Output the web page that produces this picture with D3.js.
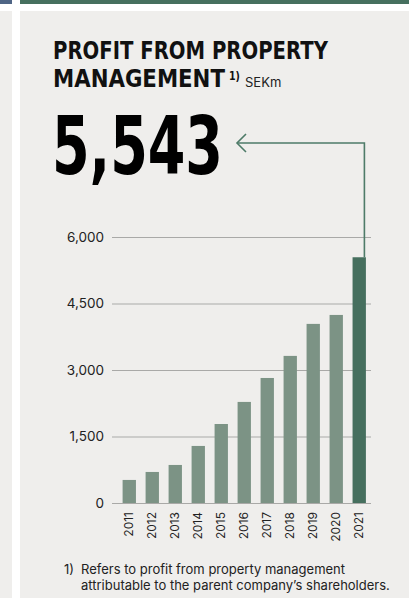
<!DOCTYPE html>
<html>
<head>
<meta charset="utf-8">
<script src="https://cdn.jsdelivr.net/npm/d3@7"></script>
<style>
  body { margin: 0; background: #fff; }
  svg { display: block; }
</style>
</head>
<body>
<div class="container"></div>
<script>
// profit from property management, SEKm
var years = ["2011", "2012", "2013", "2014", "2015", "2016", "2017", "2018", "2019", "2020", "2021"];
var profit = [520, 700, 858, 1287, 1782, 2280, 2820, 3318, 4040, 4242, 5543];
var yTicks = [0, 1500, 3000, 4500, 6000];

var opts = {
	width: 416,
	height: 604,
	bg: "#efeeec",
	bar: "#7c9385",
	highlight: "#466f5e",
	arrow: "#4e7b68"
};

var data = years.map(function(y, i){ return {year: y, value: profit[i]}; });

var svg = d3.select(".container")
	.append("svg")
	.attr("width", opts.width)
	.attr("height", opts.height);

// page furniture: side panel + main panel with coloured top strips
svg.append("rect").attr("x", 0).attr("y", 0).attr("width", 12).attr("height", 4).attr("fill", "#4f6585");
svg.append("rect").attr("x", 0).attr("y", 11).attr("width", 12).attr("height", 587).attr("fill", opts.bg);
svg.append("rect").attr("x", 20).attr("y", 0).attr("width", 389).attr("height", 4).attr("fill", "#46705f");
svg.append("rect").attr("x", 20).attr("y", 11).attr("width", 389).attr("height", 587).attr("fill", opts.bg);

var heavy = "'DejaVu Sans', sans-serif";
var body = "Inter, sans-serif";

// heavy text squeezed horizontally to a given width (fakes a condensed face)
var squeezed = function(str, x, y, size, w){
	var t = svg.append("text")
		.attr("font-family", heavy).attr("font-weight", "bold").attr("font-size", size)
		.attr("fill", "#111").text(str);
	var sx = w / t.node().getComputedTextLength();
	t.attr("transform", "translate(" + x + "," + y + ") scale(" + sx + ",1)");
	return t;
};

// title
squeezed("PROFIT FROM PROPERTY", 53, 59, 25, 275);
squeezed("MANAGEMENT", 53, 87, 25, 172);
squeezed("1)", 229, 80, 11.5, 11);
svg.append("text").attr("x", 245).attr("y", 87)
	.attr("font-family", body).attr("font-size", 13)
	.attr("fill", "#222").text("SEKm");

// big number
squeezed(d3.format(",")(profit[profit.length - 1]), 52, 174, 80, 171).attr("fill", "#000");

// scales
var x = d3.scaleBand().domain(years).range([118, 370.5]).paddingInner(0.42).paddingOuter(0.2);
var y = d3.scaleLinear().domain([0, 6000]).range([503, 237]);

// gridlines + labels
var yAxis = d3.axisLeft(y).tickValues(yTicks).tickSize(-259).tickPadding(8).tickFormat(d3.format(","));
var gy = svg.append("g").attr("transform", "translate(112,0)").call(yAxis);
gy.select(".domain").remove();
gy.selectAll(".tick line").attr("stroke", "#a9a9a7").attr("stroke-width", 1.2);
gy.selectAll(".tick text").attr("font-family", body).attr("font-size", 13.5).attr("fill", "#222");

// bars
svg.append("g").selectAll("rect").data(data).enter().append("rect")
	.attr("x", function(d){ return x(d.year); })
	.attr("y", function(d){ return y(d.value); })
	.attr("width", x.bandwidth())
	.attr("height", function(d){ return y(0) - y(d.value); })
	.attr("fill", function(d, i){ return i === data.length - 1 ? opts.highlight : opts.bar; });

// year labels
var xAxis = d3.axisBottom(x).tickSize(0).tickPadding(0);
var gx = svg.append("g").attr("transform", "translate(0,503)").call(xAxis);
gx.select(".domain").remove();
gx.selectAll(".tick text")
	.attr("font-family", body).attr("font-size", 12).attr("fill", "#222")
	.attr("transform", "rotate(-90)")
	.attr("text-anchor", "end").attr("x", -9).attr("y", 0).attr("dy", "0.35em");

// arrow from last bar to the big number
var last = data[data.length - 1];
var ax = x(last.year) + x.bandwidth() - 1.5;
var ay = 143;
svg.append("path")
	.attr("d", "M" + ax + "," + y(last.value) + "V" + ay + "H237")
	.attr("fill", "none").attr("stroke", opts.arrow).attr("stroke-width", 1.6);
svg.append("path")
	.attr("d", "M246," + (ay - 9) + "L237," + ay + "L246," + (ay + 9))
	.attr("fill", "none").attr("stroke", opts.arrow).attr("stroke-width", 1.6);

// footnote
var foot = svg.append("text").attr("font-family", body).attr("font-size", 13).attr("fill", "#222");
foot.append("tspan").attr("x", 64).attr("y", 574).text("1)");
foot.append("tspan").attr("x", 81).attr("y", 574).text("Refers to profit from property management");
foot.append("tspan").attr("x", 81).attr("y", 590).text("attributable to the parent company\u2019s shareholders.");
</script>
</body>
</html>
